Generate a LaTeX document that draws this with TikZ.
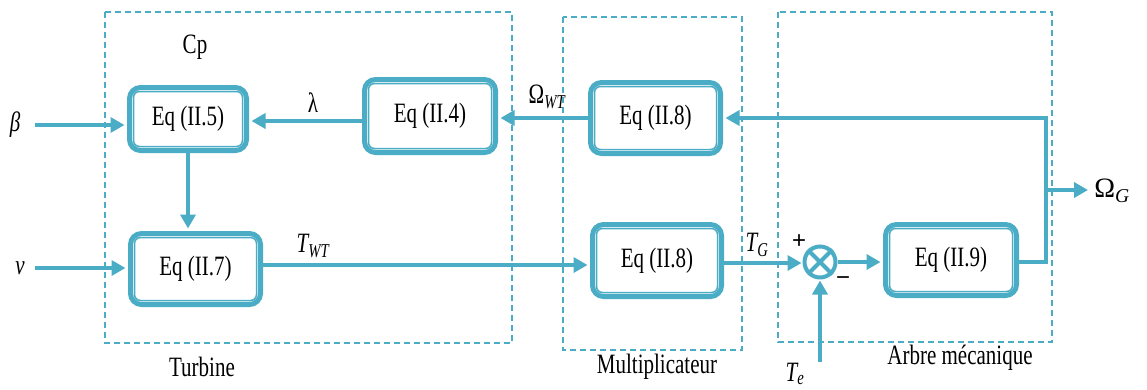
\documentclass[tikz,border=0pt]{standalone}
\usepackage{fontspec}
\setmainfont{Liberation Serif}[FakeStretch=0.75]
\newfontfamily\widefont{Liberation Serif}
\newfontfamily\signfont{Liberation Sans}
\usetikzlibrary{arrows.meta}
\definecolor{cb}{HTML}{4BACC6}
\tikzset{
  eqbox/.style={draw=cb, line width=5pt, rounded corners=11pt, fill=white, inner sep=0pt},
  innerline/.style={draw=cb, line width=1.5pt, rounded corners=6pt},
  zone/.style={draw=cb, line width=1.2pt, dash pattern=on 6pt off 4pt},
  flow/.style={draw=cb, line width=4.2pt, -{Triangle[length=14pt,width=15pt]}},
  lbl/.style={inner sep=0pt},
  sign/.style={inner sep=0pt, font=\signfont\fontsize{24}{26}\selectfont},
}
\begin{document}
\begin{tikzpicture}[x=1pt,y=-1pt,font=\fontsize{28}{30}\selectfont]
\useasboundingbox (0,0) rectangle (1147,389);
% zones
\draw[zone] (105,12) rectangle (512,343);
\draw[zone] (563,17) rectangle (742,350);
\draw[zone] (778,12) rectangle (1052,342);
% boxes
\node[eqbox, minimum width=117pt, minimum height=63pt] (n5) at (188,119) {Eq (II.5)};
\node[eqbox, minimum width=131pt, minimum height=73pt] (n4) at (430,116) {Eq (II.4)};
\node[eqbox, minimum width=130pt, minimum height=71pt] (n8a) at (655.5,118) {Eq (II.8)};
\node[eqbox, minimum width=130pt, minimum height=71pt] (n7) at (195.5,269) {Eq (II.7)};
\node[eqbox, minimum width=129pt, minimum height=72pt] (n8b) at (657,260.5) {Eq (II.8)};
\node[eqbox, minimum width=131pt, minimum height=71pt] (n9) at (951,260) {Eq (II.9)};
\foreach \n in {n5,n4,n8a,n7,n8b,n9}{
  \draw[innerline] ([shift={(6.5pt,-6.5pt)}]\n.north west) rectangle ([shift={(-6.5pt,6.5pt)}]\n.south east);
}
% sum
\node[circle, draw=cb, line width=4pt, minimum size=31pt, inner sep=0pt] (s) at (820,262) {};
\draw[cb, line width=4pt] (s.north west) -- (s.south east) (s.north east) -- (s.south west);
% coordinates
\coordinate (bin) at (35,125);
\coordinate (vin) at (35,268);
\coordinate (fb) at (1046,118);
\coordinate (fb2) at (1046,262);
\coordinate (og) at (1088,190);
\coordinate (te) at (820,362);
% arrows
\draw[flow, shorten >=2.5pt] (bin) -- (bin -| n5.west);
\draw[flow, shorten >=2.5pt] (vin) -- (vin -| n7.west);
\draw[flow, shorten >=2.5pt] (n4.west |- 0,121) -- (n5.east |- 0,121);
\draw[flow, shorten >=2.5pt] (n8a.west |- 0,118) -- (n4.east |- 0,118);
\draw[flow, shorten >=2.5pt] (n5.south) -- (n5.south |- n7.north);
\draw[flow, shorten >=2.5pt] (n7.east |- 0,265) -- (n8b.west |- 0,265);
\draw[flow, shorten >=1pt] (n8b.east |- 0,263) -- (s.west |- 0,263);
\draw[flow, shorten >=2.5pt] (s.east) -- (n9.west |- s.east);
\draw[flow, shorten >=1pt] (te) -- (s.south);
\draw[flow, shorten >=2.5pt] (n9.east |- fb2) -- (fb2) -- (fb) -- (n8a.east |- fb);
\draw[flow] (fb |- og) -- (og);
% labels
\node[lbl] at (195,47) {Cp};
\node[lbl] at (202,367) {Turbine};
\node[lbl] at (657,367) {Multiplicateur};
\node[lbl] at (960,358) {Arbre mécanique};
\node[lbl] at (313,103) {λ};
\node[lbl] at (547,97) {Ω\textsubscript{\itshape WT}};
\node[lbl] at (313,246) {\itshape T\textsubscript{WT}};
\node[lbl] at (757,245) {\itshape T\textsubscript{G}};
\node[lbl] at (795,374) {\itshape T\textsubscript{e}};
\node[lbl] at (15,125) {\itshape β};
\node[lbl] at (20,268) {\itshape v};
\node[lbl] at (1112,191) {\widefont Ω\textsubscript{\itshape G}};
\node[sign] at (799,242) {+};
\node[sign] at (843,281) {−};
\end{tikzpicture}
\end{document}
